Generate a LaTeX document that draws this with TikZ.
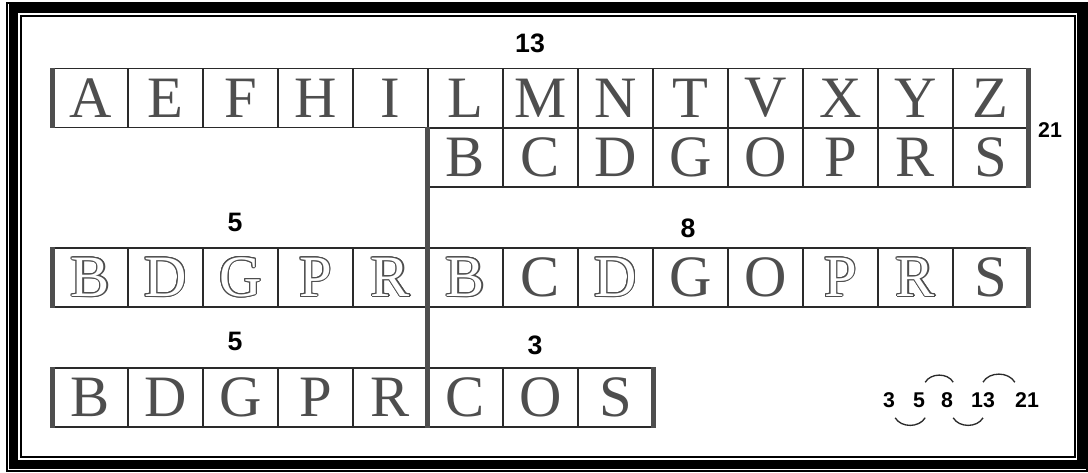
\documentclass[tikz,border=0pt]{standalone}
\usepackage{fontspec}
\newfontfamily\numfont{Liberation Sans}
\newfontfamily\letrafont{Liberation Serif}
\usepackage[copies]{contour}
\usepackage{tikz}
\definecolor{letra}{HTML}{4E4E4E}
\definecolor{linea}{HTML}{2A2A2A}
\contourlength{0.8pt}
\newcommand{\hueca}[1]{{\color{white}\contour{letra}{#1}}}

\begin{document}
\begin{tikzpicture}[x=0.75pt, y=-0.75pt,
    celda/.style={draw=linea, line width=0.9pt, minimum width=56.25pt,
      minimum height=44.25pt, inner sep=0pt, text=letra,
      font=\letrafont\fontsize{44}{44}\selectfont},
    num/.style={inner sep=0pt, font=\numfont\bfseries\fontsize{20}{20}\selectfont},
    numchico/.style={inner xsep=0pt, inner ysep=7.5pt,
      font=\numfont\bfseries\fontsize{16}{16}\selectfont},
    barra/.style={draw=letra, line width=3.6pt},
    arco/.style={draw=linea, line width=1pt}]
    \useasboundingbox (0,0) rectangle (1088,473);

    % Marco exterior
    \draw[line width=1.2pt] (7,3) rectangle (1087,471);
    \draw[line width=6.75pt] (13.5,9) rectangle (1081,464.5);
    \draw[line width=1.5pt] (21,16.5) rectangle (1075,457);

    % Fila 1 (13 letras)
    \node[celda] (f1A) at (90.5,98) {A};
    \node[celda] (f1E) at (165.5,98) {E};
    \node[celda] (f1F) at (240.5,98) {F};
    \node[celda] (f1H) at (315.5,98) {H};
    \node[celda] (f1I) at (390.5,98) {I};
    \node[celda] (f1L) at (465.5,98) {L};
    \node[celda] (f1M) at (540.5,98) {M};
    \node[celda] (f1N) at (615.5,98) {N};
    \node[celda] (f1T) at (690.5,98) {T};
    \node[celda] (f1V) at (765.5,98) {V};
    \node[celda] (f1X) at (840.5,98) {X};
    \node[celda] (f1Y) at (915.5,98) {Y};
    \node[celda] (f1Z) at (990.5,98) {Z};

    % Fila 2 (8 letras)
    \node[celda] (f2B) at (465.5,157.5) {B};
    \node[celda] (f2C) at (540.5,157.5) {C};
    \node[celda] (f2D) at (615.5,157.5) {D};
    \node[celda] (f2G) at (690.5,157.5) {G};
    \node[celda] (f2O) at (765.5,157.5) {O};
    \node[celda] (f2P) at (840.5,157.5) {P};
    \node[celda] (f2R) at (915.5,157.5) {R};
    \node[celda] (f2S) at (990.5,157.5) {S};

    % Fila 3, izquierda (5) y derecha (8)
    \node[celda] (f3iB) at (90.5,277.5) {\hueca{B}};
    \node[celda] (f3iD) at (165.5,277.5) {\hueca{D}};
    \node[celda] (f3iG) at (240.5,277.5) {\hueca{G}};
    \node[celda] (f3iP) at (315.5,277.5) {\hueca{P}};
    \node[celda] (f3iR) at (390.5,277.5) {\hueca{R}};
    \node[celda] (f3dB) at (465.5,277.5) {\hueca{B}};
    \node[celda] (f3dC) at (540.5,277.5) {C};
    \node[celda] (f3dD) at (615.5,277.5) {\hueca{D}};
    \node[celda] (f3dG) at (690.5,277.5) {G};
    \node[celda] (f3dO) at (765.5,277.5) {O};
    \node[celda] (f3dP) at (840.5,277.5) {\hueca{P}};
    \node[celda] (f3dR) at (915.5,277.5) {\hueca{R}};
    \node[celda] (f3dS) at (990.5,277.5) {S};

    % Fila 4, izquierda (5) y derecha (3)
    \node[celda] (f4B) at (90.5,397.5) {B};
    \node[celda] (f4D) at (165.5,397.5) {D};
    \node[celda] (f4G) at (240.5,397.5) {G};
    \node[celda] (f4P) at (315.5,397.5) {P};
    \node[celda] (f4R) at (390.5,397.5) {R};
    \node[celda] (f4C) at (465.5,397.5) {C};
    \node[celda] (f4O) at (540.5,397.5) {O};
    \node[celda] (f4S) at (615.5,397.5) {S};

    % Bordes gruesos y eje vertical
    \draw[barra] (f1A.north west) -- (f1A.south west);
    \draw[barra] (f1Z.north east) -- (f2S.south east);
    \draw[barra] (f3iB.north west) -- (f3iB.south west);
    \draw[barra] (f3dS.north east) -- (f3dS.south east);
    \draw[barra] (f4B.north west) -- (f4B.south west);
    \draw[barra] (f4S.north east) -- (f4S.south east);
    \draw[barra] (f2B.north west) -- (f4C.south west);

    % Cantidades
    \node[num] (n13) at (530,43) {13};
    \node[num, font=\numfont\bfseries\fontsize{16}{16}\selectfont] (n21) at (1050,130) {21};
    \node[num] (n5a) at (235,222) {5};
    \node[num] (n8) at (688,228) {8};
    \node[num] (n5b) at (235,341) {5};
    \node[num] (n3) at (535,345) {3};

    % Serie de Fibonacci
    \node[numchico] (s3) at (889,400) {3};
    \node[numchico] (s5) at (919,400) {5};
    \node[numchico] (s8) at (947,400) {8};
    \node[numchico] (s13) at (983,400) {13};
    \node[numchico] (s21) at (1027,400) {21};
    \draw[arco] (s3.south east) to[out=-60, in=-120] (s5.south east);
    \draw[arco] (s5.north east) to[out=60, in=120] (s8.north east);
    \draw[arco] (s8.south east) to[out=-60, in=-120] (s13.south);
    \draw[arco] (s13.north) to[out=60, in=120] (s21.north west);
\end{tikzpicture}
\end{document}
